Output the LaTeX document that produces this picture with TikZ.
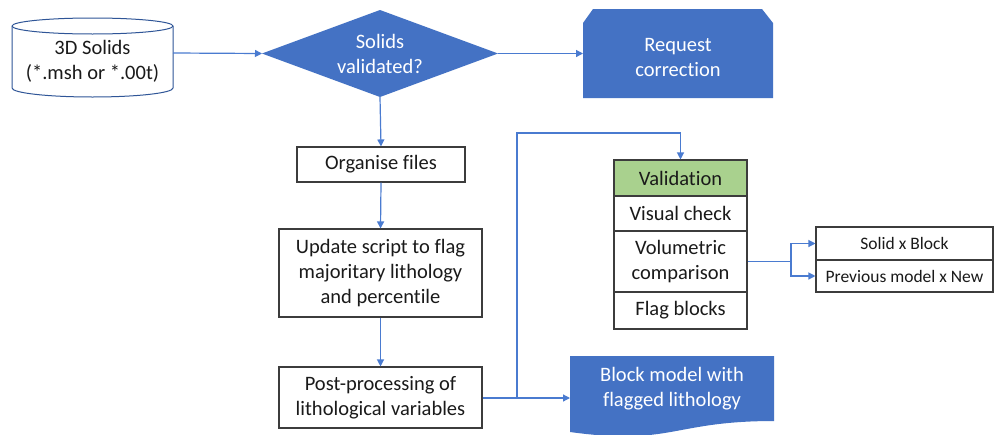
\documentclass[tikz,border=0pt]{standalone}
\usepackage{fontspec}
\setmainfont{Carlito}[Ligatures={NoCommon}]
\usetikzlibrary{arrows.meta,calc}
\definecolor{bfill}{HTML}{4472C4}
\definecolor{bline}{HTML}{4A7BD0}
\definecolor{gfill}{HTML}{A9D18E}
\definecolor{cylc}{HTML}{2F5597}
\definecolor{ink}{HTML}{1A1A1A}
\begin{document}
\begin{tikzpicture}[x=1pt,y=-1pt,
  conn/.style={draw=bline, line width=1.2pt},
  arr/.style={conn, -{Triangle[length=7pt,width=7pt]}},
  box/.style={draw=ink!85, line width=1.1pt, fill=white, align=center, text=ink,
    font=\fontsize{20.5}{25}\selectfont, inner sep=0pt},
  cell/.style={box, minimum width=133pt},
  rcell/.style={box, minimum width=177pt, font=\fontsize{17.5}{21}\selectfont},
  wtext/.style={text=white, align=center, font=\fontsize{20.5}{25}\selectfont, inner sep=0pt},
  btext/.style={text=ink, align=center, font=\fontsize{20.5}{25}\selectfont, inner sep=0pt}]
\useasboundingbox[fill=white] (0,0) rectangle (995,434);

% cylinder
\draw[draw=cylc, line width=1pt, fill=white] (12,26) -- (12,88)
  arc[start angle=180,end angle=360,x radius=80.5pt,y radius=9pt] -- (173,26)
  arc[start angle=0,end angle=180,x radius=80.5pt,y radius=8pt] -- cycle;
\draw[draw=cylc, line width=1pt] (12,26) arc[start angle=180,end angle=360,x radius=80.5pt,y radius=8pt];
\node[btext] (solids) at (92.5,61) {3D Solids\\(*.msh or *.00t)};
\coordinate (cylE) at (173,53);

% decision
\coordinate (decL) at (262,53.5);
\coordinate (decT) at (380,10);
\coordinate (decR) at (498,53.5);
\coordinate (decB) at (380,97);
\fill[bfill] (decL) -- (decT) -- (decR) -- (decB) -- cycle;
\node[wtext] (dec) at (380,54) {Solids\\validated?};

% request correction
\fill[bfill] (583,23) -- (593,9) -- (762,9) -- (773,23) -- (773,98) -- (583,98) -- cycle;
\node[wtext] (req) at (678,57) {Request\\correction};
\coordinate (reqW) at (583,53.5);

% left column
\node[box, minimum width=168pt, minimum height=35pt] (org) at (381,164.5) {Organise files};
\node[box, minimum width=203pt, minimum height=88pt] (upd) at (380.5,273) {Update script to flag\\majoritary lithology\\and percentile};
\node[box, minimum width=203pt, minimum height=61pt] (post) at (380.5,397.5) {Post-processing of\\lithological variables};

% block model (document shape)
\fill[bfill] (570,356) -- (774,356) -- (774,421) .. controls (672,421) and (672,446) .. (570,432) -- cycle;
\node[wtext] (blk) at (672,389) {Block model with\\flagged lithology};
\coordinate (blkW) at (570,398);

% validation table
\node[cell, minimum height=36pt, fill=gfill] (val) at (680.5,178) {Validation};
\node[cell, minimum height=35pt] (vis) at (680.5,213.5) {Visual check};
\node[cell, minimum height=61pt] (vol) at (680.5,261.5) {Volumetric\\comparison};
\node[cell, minimum height=37pt] (flag) at (680.5,310.5) {Flag blocks};

% right table
\node[rcell, minimum height=33pt] (r1) at (904.5,243.5) {Solid x Block};
\node[rcell, minimum height=32pt] (r2) at (904.5,276) {Previous model x New};

% connectors
\draw[arr] (cylE) -- (decL);
\draw[arr] (decR) -- (reqW);
\draw[arr] (decB) -- (org.north);
\draw[arr] (org.south) -- (upd.north);
\draw[arr] (upd.south) -- (post.north);
\coordinate (jn) at (517,398);
\coordinate (bend) at (517,133);
\draw[arr] (post.east |- blkW) -- (blkW);
\draw[arr] (jn) -- (bend) -| (val.north);
\coordinate (br) at (791,261.5);
\draw[conn] (vol.east) -- (br);
\draw[arr] (br) |- (r1.west);
\draw[arr] (br) |- (r2.west);
\end{tikzpicture}
\end{document}
